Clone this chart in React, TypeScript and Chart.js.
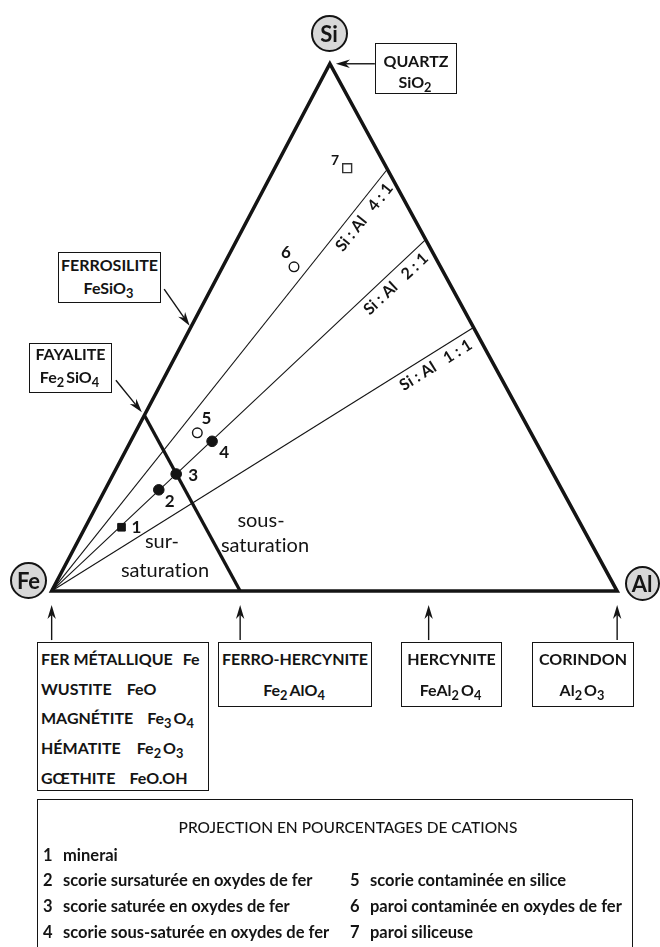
import React, { useEffect, useRef } from "react";
import { Chart, registerables } from "chart.js";

Chart.register(...registerables);

// ---------- data (cation fractions: Si, Al; Fe = 1 - Si - Al) ----------
const triangleSi = [0, 0, 1, 0, 0]; // Fe -> Al -> Si -> Fe -> Al (closed)
const triangleAl = [0, 1, 0, 0, 1];
const joinSi = [1 / 3, 0]; // fayalite Fe2SiO4 -> ferro-hercynite Fe2AlO4
const joinAl = [0, 1 / 3];
const ratioLabels = ["4 : 1", "2 : 1", "1 : 1"];
const ratioSi = [4, 2, 1];
const ratioAl = [1, 1, 1];
const pointLabels = ["1", "2", "3", "4", "5", "6", "7"];
const pointSi = [0.121, 0.192, 0.222, 0.284, 0.3, 0.615, 0.802];
const pointAl = [0.064, 0.095, 0.111, 0.144, 0.11, 0.126, 0.128];
const mineralNames = ["QUARTZ", "FERROSILITE", "FAYALITE", "FER", "FERRO-HERCYNITE", "HERCYNITE", "CORINDON"];
const mineralSi = [1, 0.5, 1 / 3, 0, 0, 0, 0];
const mineralAl = [0, 0, 0, 0, 1 / 3, 2 / 3, 1];
const legendLeft = [
  ["1", "minerai"],
  ["2", "scorie sursaturée en oxydes de fer"],
  ["3", "scorie saturée en oxydes de fer"],
  ["4", "scorie sous-saturée en oxydes de fer"],
];
const legendRight = [
  ["5", "scorie contaminée en silice"],
  ["6", "paroi contaminée en oxydes de fer"],
  ["7", "paroi siliceuse"],
];

// ---------- geometry / styles ----------
const APEX_X = 0.492;
const X_MIN = -45 / 579;
const X_MAX = 615 / 579;
const Y_MIN = -354 / 536;
const Y_MAX = 593 / 536;
const toXY = (si: number, al: number) => ({ x: al + APEX_X * si, y: si });

const pointStyles = ["rect", "circle", "circle", "circle", "circle", "circle", "rect"];
const pointFilled = [true, true, true, true, false, false, false];
const pointRadii = [5.4, 5.3, 5.3, 5.3, 4.8, 4.8, 6.3];
const labelOffsets = [
  [15, 0], [11, 12], [17, 2], [12, 11], [9, -14], [-8, -14], [-12, -8],
];
// arrow tail offsets (px) from mineral point, and gap of tip from the point
const arrowTail = [
  [45, 0], [-26.6, -38.3], [-28.5, -35], [0, 49], [0, 49], [0, 49], [0, 49],
];
const arrowGap = [6, 2, 4, 14, 14, 14, 14];

const FONT = '"Lato", "Liberation Sans", sans-serif';
const INK = "#141414";

function drawArrow(ctx: CanvasRenderingContext2D, tx: number, ty: number, hx: number, hy: number) {
  const dx = hx - tx, dy = hy - ty;
  const L = Math.hypot(dx, dy);
  const ux = dx / L, uy = dy / L;
  const nx = -uy, ny = ux;
  const len = 14, hw = 4.2;
  ctx.beginPath();
  ctx.moveTo(tx, ty);
  ctx.lineTo(hx - ux * len * 0.7, hy - uy * len * 0.7);
  ctx.lineWidth = 1.4;
  ctx.strokeStyle = INK;
  ctx.stroke();
  ctx.beginPath();
  ctx.moveTo(hx, hy);
  ctx.lineTo(hx - ux * len + nx * hw, hy - uy * len + ny * hw);
  ctx.lineTo(hx - ux * len * 0.7, hy - uy * len * 0.7);
  ctx.lineTo(hx - ux * len - nx * hw, hy - uy * len - ny * hw);
  ctx.closePath();
  ctx.fillStyle = INK;
  ctx.fill();
}

const annotPlugin = {
  id: "annot",
  afterDatasetsDraw(chart: any) {
    const { ctx } = chart;
    const xs = chart.scales.x, ys = chart.scales.y;
    const P = (si: number, al: number) => {
      const d = toXY(si, al);
      return [xs.getPixelForValue(d.x), ys.getPixelForValue(d.y)];
    };
    ctx.save();
    // arrows
    mineralSi.forEach((si, i) => {
      const [mx, my] = P(si, mineralAl[i]);
      const [ox, oy] = arrowTail[i];
      const L = Math.hypot(ox, oy);
      const hx = mx + (ox / L) * arrowGap[i];
      const hy = my + (oy / L) * arrowGap[i];
      drawArrow(ctx, mx + ox, my + oy, hx, hy);
    });
    // point labels
    ctx.fillStyle = INK;
    ctx.textAlign = "center";
    ctx.textBaseline = "middle";
    pointLabels.forEach((lab, i) => {
      const [px, py] = P(pointSi[i], pointAl[i]);
      ctx.font = i === 6 ? `bold 14px ${FONT}` : `bold 17px ${FONT}`;
      ctx.fillText(lab, px + labelOffsets[i][0], py + labelOffsets[i][1]);
    });
    // ratio labels
    const [fx, fy] = P(0, 0);
    ratioLabels.forEach((lab, i) => {
      const s = ratioSi[i] + ratioAl[i];
      const [ex, ey] = P(ratioSi[i] / s, ratioAl[i] / s);
      const L = Math.hypot(ex - fx, ey - fy);
      const ux = (ex - fx) / L, uy = (ey - fy) / L;
      const nx = -uy, ny = ux;
      const ax = ex - ux * 11 + nx * 12;
      const ay = ey - uy * 11 + ny * 12;
      ctx.save();
      ctx.translate(ax, ay);
      ctx.rotate(Math.atan2(uy, ux));
      ctx.font = `bold 16px ${FONT}`;
      ctx.textAlign = "right";
      ctx.textBaseline = "middle";
      ctx.fillText("Si : Al   " + lab, 0, 0);
      ctx.restore();
    });
    ctx.restore();
  },
};

const Sub = ({ c }: { c: string }) => (
  <sub style={{ fontSize: "0.8em", verticalAlign: "-0.35em", lineHeight: 0, marginRight: 2 }}>{c}</sub>
);

function Box(props: { l: number; t: number; w: number; h: number; lines: any[]; ys: number[]; size?: number; weight?: number; align?: string; pad?: number }) {
  const { l, t, w, h, lines, ys, size = 16, weight = 700, align = "center", pad = 0 } = props;
  return (
    <div style={{ position: "absolute", left: l, top: t, width: w, height: h, border: `1.5px solid ${INK}`, boxSizing: "border-box", background: "#fff" }}>
      {lines.map((ln, i) => (
        <div key={i} style={{ position: "absolute", left: pad, right: 0, top: ys[i] - 12, height: 24, lineHeight: "24px", textAlign: align as any, fontSize: size, fontWeight: weight, whiteSpace: "pre", color: INK }}>
          {ln}
        </div>
      ))}
    </div>
  );
}

function Circle({ cx, cy, r, text }: { cx: number; cy: number; r: number; text: string }) {
  return (
    <div style={{ position: "absolute", left: cx - r, top: cy - r, width: 2 * r, height: 2 * r, borderRadius: "50%", border: `2.5px solid ${INK}`, boxSizing: "border-box", background: "#d8d8d8", display: "flex", alignItems: "center", justifyContent: "center", fontSize: 22, fontWeight: 700, color: INK }}>
      {text}
    </div>
  );
}

export default function App() {
  const ref = useRef<HTMLCanvasElement>(null);
  useEffect(() => {
    if (!ref.current) return;
    const lineDs = (si: number[], al: number[], width: number) => ({
      data: si.map((s, i) => toXY(s, al[i])),
      showLine: true,
      borderColor: INK,
      borderWidth: width,
      pointRadius: 0,
      borderJoinStyle: "miter",
      borderCapStyle: "butt",
      tension: 0,
      clip: false,
    });
    const datasets: any[] = [
      {
        data: pointSi.map((s, i) => toXY(s, pointAl[i])),
        showLine: false,
        pointStyle: pointStyles,
        pointRadius: pointRadii,
        pointBackgroundColor: pointFilled.map((f) => (f ? INK : "#fff")),
        pointBorderColor: pointFilled.map((f, i) => (i === 6 ? "#333" : INK)),
        pointBorderWidth: pointFilled.map((f) => (f ? 1 : 1.4)),
        clip: false,
      },
      lineDs(triangleSi, triangleAl, 3.5),
      lineDs(joinSi, joinAl, 3.3),
      ...ratioSi.map((s, i) => lineDs([0, s / (s + ratioAl[i])], [0, ratioAl[i] / (s + ratioAl[i])], 1.1)),
    ];
    const chart = new Chart(ref.current, {
      type: "scatter",
      data: { datasets },
      options: {
        responsive: false,
        animation: false,
        devicePixelRatio: 1,
        events: [],
        layout: { padding: 0 },
        plugins: { legend: { display: false }, tooltip: { enabled: false }, title: { display: false } },
        scales: {
          x: { type: "linear", min: X_MIN, max: X_MAX, display: false },
          y: { type: "linear", min: Y_MIN, max: Y_MAX, display: false },
        },
      } as any,
      plugins: [annotPlugin],
    });
    return () => chart.destroy();
  }, []);

  const rowL = [855, 880, 906, 932];
  const rowR = [880, 906, 932];
  return (
    <div style={{ position: "absolute", left: 0, top: 0, width: 660, height: 947, overflow: "hidden", background: "#fff", fontFamily: FONT, color: INK, fontVariantLigatures: "none" }}>
      <canvas ref={ref} width={660} height={947} style={{ position: "absolute", left: 0, top: 0, width: 660, height: 947 }} />
      <Circle cx={329} cy={33} r={18.5} text="Si" />
      <Circle cx={28.5} cy={580} r={18.5} text="Fe" />
      <Circle cx={642} cy={583.5} r={17.5} text="Al" />

      <Box l={375} t={43} w={82} h={51} ys={[17, 38]} size={16} lines={["QUARTZ", <span>SiO<Sub c="2" /></span>]} />
      <Box l={58} t={252} w={103} h={51} ys={[12, 35]} size={16} lines={["FERROSILITE", <span>FeSiO<Sub c="3" /></span>]} />
      <Box l={29} t={343} w={83} h={50} ys={[10, 33]} size={16} lines={["FAYALITE", <span>Fe<Sub c="2" />SiO<Sub c="4" /></span>]} />

      <div style={{ position: "absolute", left: 105, width: 120, top: 527, textAlign: "center", fontSize: 20, lineHeight: "26px" }}>
        <div style={{ marginLeft: -6 }}>sur-</div>
        <div style={{ marginTop: 3 }}>saturation</div>
      </div>
      <div style={{ position: "absolute", left: 205, width: 120, top: 506, textAlign: "center", fontSize: 20, lineHeight: "26px" }}>
        <div style={{ marginRight: 8 }}>sous-</div>
        <div style={{ marginTop: -1 }}>saturation</div>
      </div>

      <Box l={37} t={642} w={172} h={149} ys={[16, 46, 75, 105, 135]} align="left" pad={3} size={16}
        lines={[
          <span>FER MÉTALLIQUE<span style={{ marginLeft: 10 }}>Fe</span></span>,
          <span>WUSTITE<span style={{ marginLeft: 15 }}>FeO</span></span>,
          <span>MAGNÉTITE<span style={{ marginLeft: 14 }}>Fe<Sub c="3" />O<Sub c="4" /></span></span>,
          <span>HÉMATITE<span style={{ marginLeft: 16 }}>Fe<Sub c="2" />O<Sub c="3" /></span></span>,
          <span>GŒTHITE<span style={{ marginLeft: 14 }}>FeO.OH</span></span>,
        ]} />
      <Box l={218} t={642} w={154} h={65} ys={[16, 47]} lines={[mineralNames[4], <span>Fe<Sub c="2" />AlO<Sub c="4" /></span>]} />
      <Box l={401} t={642} w={101} h={65} ys={[16, 47]} lines={[mineralNames[5], <span>FeAl<Sub c="2" />O<Sub c="4" /></span>]} />
      <Box l={532} t={642} w={102} h={65} ys={[16, 47]} lines={[mineralNames[6], <span>Al<Sub c="2" />O<Sub c="3" /></span>]} />

      <div style={{ position: "absolute", left: 37, top: 799, width: 596, height: 220, border: `1.5px solid ${INK}`, boxSizing: "border-box" }} />
      <div style={{ position: "absolute", left: 148, width: 400, top: 815, lineHeight: "24px", textAlign: "center", fontSize: 15.5, fontWeight: 500 }}>
        PROJECTION EN POURCENTAGES DE CATIONS
      </div>
      {legendLeft.map(([n, t], i) => (
        <div key={"l" + i} style={{ position: "absolute", left: 43, top: rowL[i] - 12, lineHeight: "24px", fontSize: 16.5, fontWeight: 700, whiteSpace: "pre" }}>
          <span style={{ display: "inline-block", width: 20 }}>{n}</span>{t}
        </div>
      ))}
      {legendRight.map(([n, t], i) => (
        <div key={"r" + i} style={{ position: "absolute", left: 350, top: rowR[i] - 12, lineHeight: "24px", fontSize: 16.5, fontWeight: 700, whiteSpace: "pre" }}>
          <span style={{ display: "inline-block", width: 20 }}>{n}</span>{t}
        </div>
      ))}
    </div>
  );
}
